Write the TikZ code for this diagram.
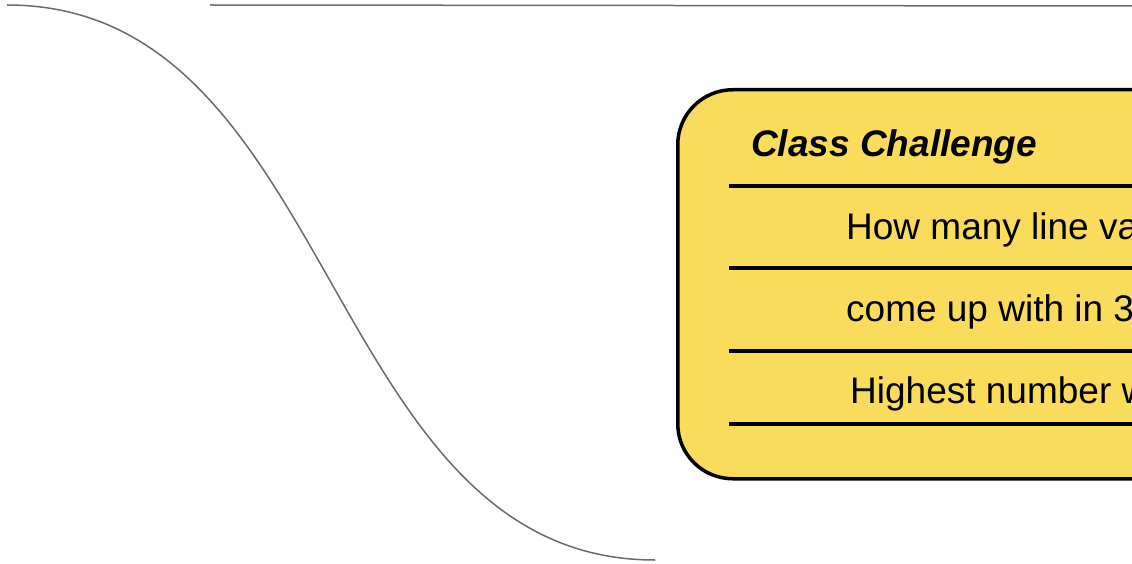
\documentclass[tikz,border=0pt]{standalone}
\usepackage{fontspec}
\setmainfont{Liberation Sans}
\usetikzlibrary{calc}
\definecolor{challyellow}{HTML}{F9DC5C}
\definecolor{wiregrey}{HTML}{6B6B6B}

\begin{document}
\begin{tikzpicture}[x=1pt,y=-1pt,
  wire/.style={wiregrey, line width=1.5pt},
  rule/.style={black, line width=3.5pt},
  txt/.style={anchor=base west, inner sep=0pt, font=\fontsize{37}{41}\selectfont},
  ttl/.style={anchor=base west, inner sep=0pt, font=\fontsize{37}{41}\selectfont\bfseries\itshape}]
\useasboundingbox (0,0) rectangle (1132,564);
\clip (0,0) rectangle (1132,564);
\coordinate (topl) at (210,5);
\coordinate (topr) at (1132,6);
\draw[wire] (topl) -- (topr);
\coordinate (sstart) at (7,5);
\coordinate (send) at (655,560);
\draw[wire] (sstart) .. controls (340,5) and (322,560) .. (send);
\node[draw, line width=3.5pt, fill=challyellow, rounded corners=55pt, anchor=north west,
  minimum width=560pt, minimum height=389pt] (chal) at (676,88) {};
\foreach \y/\n in {186/a,268/b,351/c,424/d}{
  \coordinate (r\n w) at (729,\y);
  \coordinate (r\n e) at (1140,\y);
  \draw[rule] (r\n w) -- (r\n e);
}
\node[ttl] (title) at (751,157) {Class Challenge};
\node[txt] (lineone) at (846,239) {How many line va};
\node[txt] (linetwo) at (846,321) {come up with in 3};
\node[txt] (linethree) at (850,403) {Highest number w};
%\draw[help lines] (0,0) grid[step=50] (1132,564);
\end{tikzpicture}
\end{document}
